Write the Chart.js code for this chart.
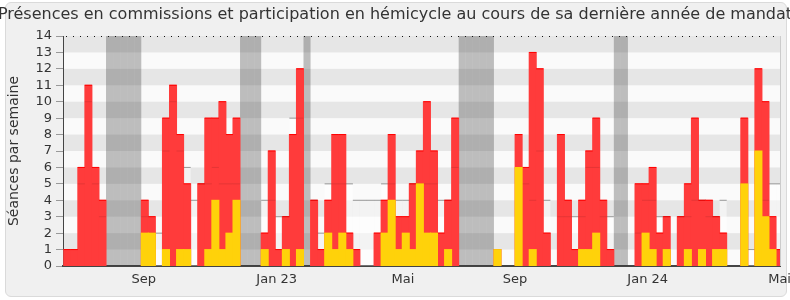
<!DOCTYPE html>
<html>
<head>
<meta charset="utf-8">
<script src="https://cdn.jsdelivr.net/npm/chart.js@4"></script>
<style>
  body { margin: 0; background: #fff; }
  #panel { position: absolute; left: 5px; top: 2px; width: 780px; height: 293px; background: #f0f0f0; border: 1px solid #dadada; border-radius: 6px; }
  #wrap { position: absolute; left: 0; top: 0; width: 790px; height: 300px; }
</style>
</head>
<body>
<div id="panel"></div>
<div id="wrap"><canvas id="chartPresence" width="790" height="300"></canvas></div>
<script>
var titre = "Présences en commissions et participation en hémicycle au cours de sa dernière année de mandat";

// une valeur par semaine
var commissions = [1,1,6,11,6,4,0,0,0,0, 0,4,3,0,9,11,8,5,0,5, 9,9,10,8,9,0,0,0,2,7,
                   1,3,8,12,0,4,1,4,8,8, 2,1,0,0,2,4,8,3,3,5, 7,10,7,2,4,9,0,0,0,0,
                   0,1,0,0,8,6,13,12,2,0, 8,4,1,4,7,9,4,1,0,0, 0,5,5,6,2,3,0,3,5,9,
                   4,4,3,2,0,0,9,0,12,10, 3,1];
var hemicycle =   [0,0,0,0,0,0,0,0,0,0, 0,2,2,0,1,0,1,1,0,0, 1,4,1,2,4,0,0,0,1,0,
                   0,1,0,1,0,0,0,2,1,2, 1,0,0,0,0,2,4,1,2,1, 5,2,2,0,1,0,0,0,0,0,
                   0,1,0,0,6,0,1,0,0,0, 0,0,0,1,1,2,0,0,0,0, 0,0,2,1,0,1,0,0,1,0,
                   1,0,1,1,0,0,5,0,7,3, 1,0];
var mediane =     [null,null,5,10,5,3,null,null,null,null, null,3,2,2,7,10,7,6,4,5,
                   5,6,5,5,5,null,null,null,4,4, 3,3,9,9,null,4,2,5,5,5,
                   5,4,4,4,4,5,5,4,4,5, 5,5,5,4,4,6,null,null,null,null,
                   null,1,null,null,5,5,4,7,4,null, 3,3,3,3,6,6,3,3,null,null,
                   null,2,4,4,3,3,null,3,3,4, 4,3,3,4,null,null,5,1,5,4,
                   5,5];
var semainesVacances = [6,7,8,9,10,25,26,27,34,56,57,58,59,60,78,79];
var tickSemaines = [10.85, 29.7, 47.6, 63.5, 82.3, 101];
var tickLabels = ['Sep', 'Jan 23', 'Mai', 'Sep', 'Jan 24', 'Mai'];
var yMax = 14;

// les semaines à 0 ne dessinent rien
var toPoints = function (arr) {
    return arr.map(function (v, i) { return { x: i, y: v === 0 ? null : v }; });
};
var vacances = commissions.map(function (v, i) {
    return semainesVacances.indexOf(i) >= 0 ? yMax : null;
});

// petit trait horizontal, de la largeur d'une semaine, posé sur une valeur
var traits = function (label, arr, couleur, order) {
    return {
        type: 'line',
        label: label,
        data: toPoints(arr),
        showLine: false,
        pointStyle: 'line',
        pointRadius: 3.55,
        pointBorderWidth: 1,
        pointBorderColor: couleur,
        order: order
    };
};

var fondPlugin = {
    id: 'fond',
    beforeDraw: function (chart) {
        var ctx = chart.ctx, a = chart.chartArea, y = chart.scales.y;
        ctx.save();
        ctx.fillStyle = '#fafafa';
        ctx.fillRect(a.left, a.top, a.right - a.left, a.bottom - a.top);
        ctx.fillStyle = '#e6e6e6';
        for (var k = 1; k < yMax; k += 2) {
            var y1 = y.getPixelForValue(k + 1), y0 = y.getPixelForValue(k);
            ctx.fillRect(a.left, y1, a.right - a.left, y0 - y1);
        }
        ctx.restore();
    },
    afterDatasetsDraw: function (chart) {
        var ctx = chart.ctx, a = chart.chartArea;
        ctx.save();
        ctx.strokeStyle = '#111';
        ctx.lineWidth = 1;
        ctx.setLineDash([1, 6]);
        ctx.beginPath();
        ctx.moveTo(a.left + 3, a.top + 0.5);
        ctx.lineTo(a.right, a.top + 0.5);
        ctx.stroke();
        ctx.setLineDash([]);
        ctx.strokeStyle = '#cccccc';
        ctx.beginPath();
        ctx.moveTo(a.right + 0.5, a.top);
        ctx.lineTo(a.right + 0.5, a.bottom);
        ctx.stroke();
        ctx.restore();
    },
    afterDraw: function (chart) {
        var ctx = chart.ctx;
        ctx.save();
        ctx.font = '16px "DejaVu Sans"';
        ctx.fillStyle = '#333';
        ctx.textAlign = 'center';
        ctx.textBaseline = 'alphabetic';
        ctx.fillText(titre, 395, 19);
        ctx.restore();
    }
};

var ctx = document.getElementById('chartPresence').getContext('2d');
var myChart = new Chart(ctx, {
    type: 'bar',
    data: {
        datasets: [{
            label: 'Hémicycle',
            data: toPoints(hemicycle),
            backgroundColor: '#ffd20a',
            inflateAmount: 0.5,
            order: 0
        },
        traits('Médiane (dans le rouge)', mediane, 'rgba(0,0,0,0.1)', 1),
        traits('Commissions (haut)', commissions, '#ff0000', 2),
        {
            label: 'Commissions',
            data: toPoints(commissions),
            backgroundColor: '#ff3b3b',
            inflateAmount: 0.5,
            order: 3
        },
        traits('Médiane (haut)', mediane, '#aaaaaa', 4),
        {
            label: 'Vacances',
            data: toPoints(vacances),
            backgroundColor: 'rgba(50,50,50,0.3)',
            order: 5
        }, {
            label: 'Médiane',
            data: toPoints(mediane),
            backgroundColor: 'rgba(255,255,255,0.5)',
            order: 6
        }]
    },
    options: {
        responsive: false,
        animation: false,
        datasets: {
            bar: { grouped: false, barPercentage: 1, categoryPercentage: 1, inflateAmount: 0 }
        },
        layout: { padding: { top: 36, right: 10, left: 0, bottom: 0 } },
        plugins: {
            legend: { display: false },
            tooltip: { enabled: false },
            title: { display: false }
        },
        scales: {
            x: {
                type: 'linear',
                min: -0.6,
                max: 101.06,
                offset: false,
                grid: { display: false, drawTicks: false },
                border: { display: true, color: '#444', width: 2 },
                afterBuildTicks: function (scale) {
                    scale.ticks = tickSemaines.map(function (v) { return { value: v }; });
                },
                ticks: {
                    autoSkip: false,
                    maxRotation: 0,
                    padding: 6,
                    color: '#333',
                    font: { family: 'DejaVu Sans', size: 13 },
                    callback: function (v, i) { return tickLabels[i]; }
                },
                afterFit: function (scale) {
                    scale.height = 34;
                    scale.paddingLeft = 0;
                    scale.paddingRight = 0;
                }
            },
            y: {
                min: 0,
                max: yMax,
                ticks: {
                    stepSize: 1,
                    autoSkip: false,
                    padding: 4,
                    color: '#333',
                    font: { family: 'DejaVu Sans', size: 13 }
                },
                grid: { drawOnChartArea: false, tickLength: 7, color: '#999' },
                border: { color: '#444', width: 1 },
                title: {
                    display: true,
                    text: 'Séances par semaine',
                    color: '#333',
                    font: { family: 'DejaVu Sans', size: 14 },
                    padding: { top: 6, bottom: 0 }
                },
                afterFit: function (scale) {
                    scale.width = 63;
                }
            }
        }
    },
    plugins: [fondPlugin]
});
</script>
</body>
</html>
